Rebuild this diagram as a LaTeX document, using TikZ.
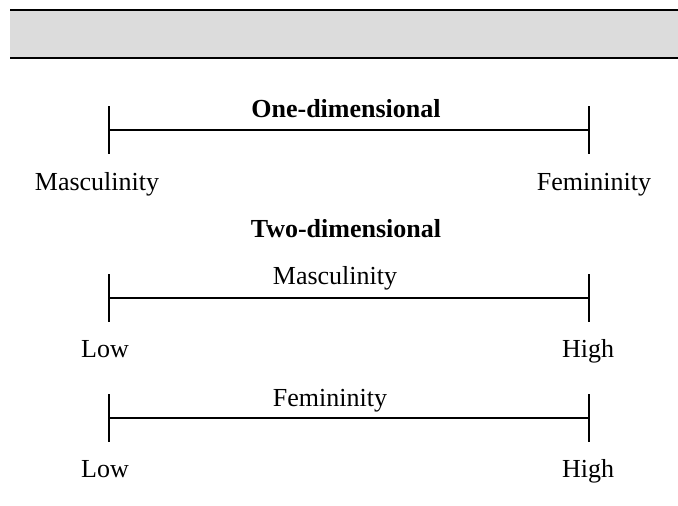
\documentclass[tikz,border=0pt]{standalone}
\usepackage{fontspec}
\setmainfont{Liberation Serif}
\usetikzlibrary{positioning}
\definecolor{barfill}{HTML}{DCDCDC}
\tikzset{
        x=1pt, y=-1pt, % one unit is one pixel of the page, y runs down
        label/.style={inner sep=0pt, anchor=base, font=\fontsize{26}{30}\selectfont}, % text under and over the scales
        heading/.style={label, font=\fontsize{26}{30}\selectfont\bfseries}, % bold titles
        scaleline/.style={line width=1.5pt}, % the scale and its end ticks
        }

\begin{document}
\begin{tikzpicture}
        \useasboundingbox (0,0) rectangle (678,506);
        % grey bar on top
        \fill[barfill] (10,10) rectangle (678,58);
        \draw[line width=1.8pt] (10,10) -- (678,10);
        \draw[line width=1.8pt] (10,58) -- (678,58);

        % one-dimensional scale
        \coordinate (oneL) at (109,130);
        \coordinate (oneR) at (589,130);
        \node[heading] (oneTitle) at (346,117) {One-dimensional};
        \node[label] (oneMasc) at (97,190) {Masculinity};
        \node[label] (oneFem) at (594,190) {Femininity};
        \draw[scaleline] (oneL) -- (oneR);
        \draw[scaleline] ([yshift=24pt]oneL) -- ([yshift=-24pt]oneL);
        \draw[scaleline] ([yshift=24pt]oneR) -- ([yshift=-24pt]oneR);

        % two-dimensional scales
        \node[heading] (twoTitle) at (346,237) {Two-dimensional};

        \coordinate (mascL) at (109,298);
        \coordinate (mascR) at (589,298);
        \node[label] (mascName) at (335,284) {Masculinity};
        \node[label] (mascLow) at (105,357) {Low};
        \node[label] (mascHigh) at (588,357) {High};
        \draw[scaleline] (mascL) -- (mascR);
        \draw[scaleline] ([yshift=24pt]mascL) -- ([yshift=-24pt]mascL);
        \draw[scaleline] ([yshift=24pt]mascR) -- ([yshift=-24pt]mascR);

        \coordinate (femL) at (109,418);
        \coordinate (femR) at (589,418);
        \node[label] (femName) at (330,406) {Femininity};
        \node[label] (femLow) at (105,477) {Low};
        \node[label] (femHigh) at (588,477) {High};
        \draw[scaleline] (femL) -- (femR);
        \draw[scaleline] ([yshift=24pt]femL) -- ([yshift=-24pt]femL);
        \draw[scaleline] ([yshift=24pt]femR) -- ([yshift=-24pt]femR);
\end{tikzpicture}
\end{document}
